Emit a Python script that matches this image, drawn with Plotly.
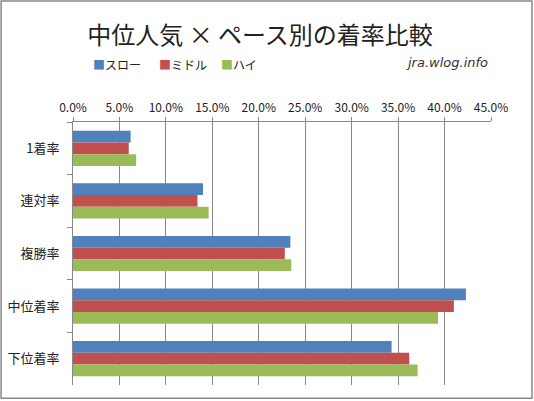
import plotly.graph_objects as go

# カテゴリとシリーズ値 (画像から読み取り, 単位: 割合)
categories = ['1着率', '連対率', '複勝率', '中位着率', '下位着率']
slow = [0.062, 0.140, 0.234, 0.423, 0.343]
middle = [0.060, 0.134, 0.228, 0.410, 0.362]
high = [0.068, 0.146, 0.235, 0.393, 0.371]
series_names = ['スロー', 'ミドル', 'ハイ']
tick_vals = [0, 0.05, 0.10, 0.15, 0.20, 0.25, 0.30, 0.35, 0.40, 0.45]

colors = ['#4f81bd', '#c0504d', '#9bbb59']
font = 'Noto Sans CJK JP'

fig = go.Figure()
for name, vals, c in zip(series_names, [slow, middle, high], colors):
    fig.add_trace(go.Bar(y=categories, x=vals, name=name, orientation='h',
                         marker=dict(color=c, line=dict(width=0)), showlegend=False))

fig.update_layout(
    width=534, height=401,
    margin=dict(l=73, r=43, t=122, b=16, autoexpand=False),
    paper_bgcolor='white', plot_bgcolor='white',
    barmode='group', bargap=0.33, bargroupgap=0,
    font=dict(family=font, size=11, color='#222'),
    title=dict(text='中位人気 × ペース別の着率比較', x=0.487, xanchor='center',
               y=0.912, yanchor='middle',
               font=dict(family=font, size=24, color='#222')),
    showlegend=False,
)

fig.update_xaxes(side='top', range=[0, 0.45], tickvals=tick_vals, tickformat='.1%',
                 showgrid=True, gridcolor='#888', gridwidth=1, automargin=False,
                 showline=True, linecolor='#888', ticks='outside', ticklen=4,
                 tickcolor='#888', zeroline=False,
                 tickfont=dict(size=12, color='#222'))
fig.update_yaxes(autorange='reversed', showline=True, linecolor='#888', automargin=False,
                 ticks='outside', tickson='boundaries', ticklen=5, tickcolor='#888',
                 showgrid=False, tickfont=dict(size=13, color='#222'),
                 ticklabelstandoff=10)

# 凡例 (小さい四角 + 名前)
legend_x = [0.042, 0.202, 0.35]
for name, c, lx in zip(series_names, colors, legend_x):
    fig.add_annotation(text=f'<span style="color:{c}">■</span>{name}',
                       xref='paper', yref='paper', x=lx, y=1.22,
                       xanchor='left', yanchor='middle', showarrow=False,
                       font=dict(family=font, size=12, color='#222'))

fig.add_annotation(text='<i>jra.wlog.info</i>', xref='paper', yref='paper',
                   x=0.998, y=1.228, xanchor='right', yanchor='middle', showarrow=False,
                   font=dict(family='DejaVu Sans', size=13, color='#333'))

# 外枠
fig.add_shape(type='rect', xref='paper', yref='paper',
              x0=-0.172, x1=1.098, y0=-0.05, y1=1.46,
              line=dict(color='#888', width=1.5), fillcolor='rgba(0,0,0,0)')

fig.write_html('out.html', config={'displayModeBar': False},
               post_script="document.body.style.margin='0';")
